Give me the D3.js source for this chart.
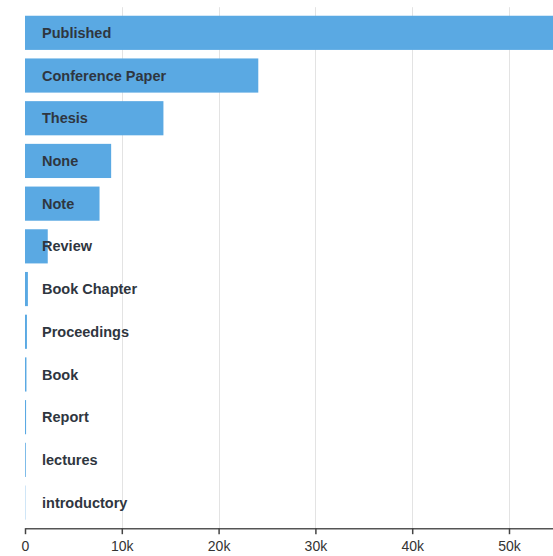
<!DOCTYPE html>
<html>
<head>
<meta charset="utf-8">
<script src="https://cdn.jsdelivr.net/npm/d3@7"></script>
<style>
  html, body { margin: 0; padding: 0; background: #fff; overflow: hidden; }
  svg { display: block; }
</style>
</head>
<body>
<div id="chart"></div>
<script>
const categories = ["Published", "Conference Paper", "Thesis", "None", "Note", "Review",
  "Book Chapter", "Proceedings", "Book", "Report", "lectures", "introductory"];
const counts = [57000, 24100, 14300, 8900, 7700, 2350, 300, 200, 150, 110, 80, 30];
const xTicks = [0, 10000, 20000, 30000, 40000, 50000];
const xTickLabels = ["0", "10k", "20k", "30k", "40k", "50k"];

const W = 553, H = 556;
const margin = { left: 25, top: 7.2 };
const plotH = 521;
const pxPer10k = 96.8;

const data = categories.map((c, i) => ({ name: c, value: counts[i] }));

const svg = d3.select("#chart").append("svg")
  .attr("width", W).attr("height", H);

const x = d3.scaleLinear()
  .domain([0, 57000])
  .range([margin.left, margin.left + pxPer10k * 5.7]);

const y = d3.scaleBand()
  .domain(categories)
  .range([margin.top, margin.top + plotH])
  .padding(0.2);

// grid lines
svg.append("g").selectAll("line")
  .data(xTicks.slice(1))
  .join("line")
  .attr("x1", d => Math.round(x(d)) + 0.5)
  .attr("x2", d => Math.round(x(d)) + 0.5)
  .attr("y1", margin.top)
  .attr("y2", margin.top + plotH)
  .attr("stroke", "#e3e3e3")
  .attr("stroke-width", 1);

// bars
svg.append("g").selectAll("rect")
  .data(data)
  .join("rect")
  .attr("x", x(0))
  .attr("y", d => y(d.name))
  .attr("width", d => Math.max(0, x(d.value) - x(0)))
  .attr("height", y.bandwidth())
  .attr("fill", "#5aa9e3");

// labels
svg.append("g").selectAll("text")
  .data(data)
  .join("text")
  .attr("x", x(0) + 17)
  .attr("y", d => y(d.name) + y.bandwidth() / 2)
  .attr("dy", "0.35em")
  .attr("font-family", "'Liberation Sans', Arial, sans-serif")
  .attr("font-weight", "bold")
  .attr("font-size", 14.5)
  .attr("fill", "#2f3640")
  .text(d => d.name);

// x axis
const axis = d3.axisBottom(x)
  .tickValues(xTicks)
  .tickFormat((d, i) => xTickLabels[i])
  .tickSize(6)
  .tickSizeOuter(0);

const gx = svg.append("g")
  .attr("transform", `translate(0,${margin.top + plotH})`)
  .call(axis);
gx.select(".domain").attr("stroke", "#555").attr("stroke-width", 1.5);
gx.selectAll(".tick line").attr("stroke", "#444").attr("stroke-width", 1.5);
gx.selectAll(".tick text")
  .attr("font-family", "'Liberation Sans', Arial, sans-serif")
  .attr("font-size", 14)
  .attr("fill", "#333")
  .attr("dy", "1em");
</script>
</body>
</html>
